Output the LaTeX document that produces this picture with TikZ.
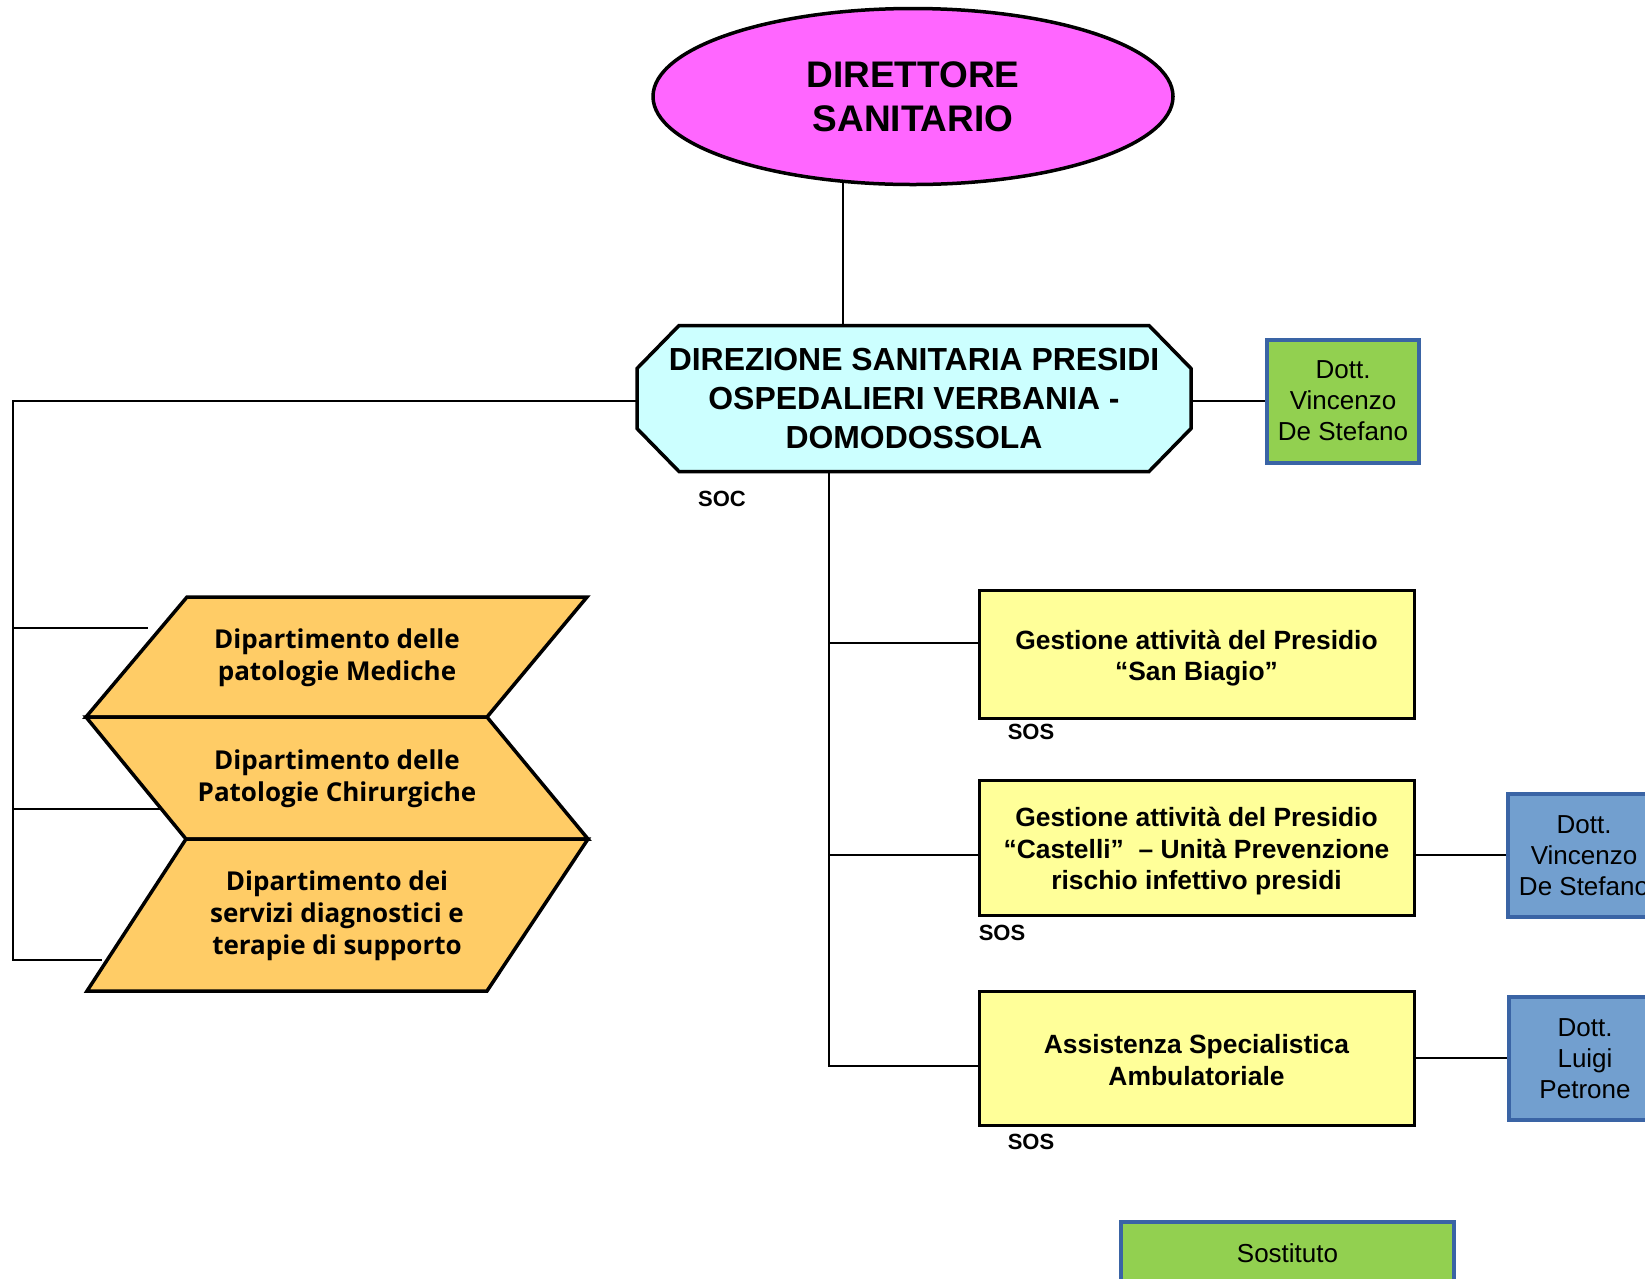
\documentclass[tikz,border=0pt]{standalone}
\usepackage{fontspec}
\setmainfont{Liberation Sans}
\newfontfamily\chevfont{Open Sans}
\usetikzlibrary{shapes.geometric,calc}
\definecolor{magentaF}{HTML}{FF66FF}
\definecolor{cyanF}{HTML}{CCFFFF}
\definecolor{yellowF}{HTML}{FFFF99}
\definecolor{orangeF}{HTML}{FFCC66}
\definecolor{greenF}{HTML}{92D050}
\definecolor{blueF}{RGB}{114,159,207}
\definecolor{blueD}{RGB}{58,100,165}
\begin{document}
\begin{tikzpicture}[x=1pt,y=-1pt,
  conn/.style={line width=2pt},
  ybox/.style={draw, line width=3pt, fill=yellowF, minimum width=435, inner sep=0},
  ytxt/.style={inner sep=0, align=center, font=\fontsize{26.4}{31.5}\selectfont\bfseries},
  pbox/.style={draw=blueD, line width=4pt, fill=blueF, minimum width=152, minimum height=123,
    inner sep=0, align=center, font=\fontsize{26}{31}\selectfont},
  gbox/.style={pbox, fill=greenF},
  tag/.style={inner sep=0, font=\fontsize{22}{24}\selectfont\bfseries},
  chev/.style={draw, line width=3.5pt, fill=orangeF},
  chevtxt/.style={inner sep=0, align=center, font=\chevfont\bfseries\fontsize{26}{32}\selectfont}]
\useasboundingbox (0,0) rectangle (1645,1278);

% top ellipse
\node[ellipse, draw, line width=3.5pt, fill=magentaF, minimum width=520, minimum height=176,
  inner sep=0, align=center, font=\fontsize{37}{44}\selectfont\bfseries] (ell) at (913,96.5)
  {DIRETTORE\\SANITARIO};

% octagon
\node[inner sep=0, outer sep=0, minimum width=554, minimum height=146] (dir) at (914,398.5) {};
\draw[line width=3.5pt, fill=cyanF]
  ([xshift=42pt]dir.north west) -- ([xshift=-42pt]dir.north east)
  -- ([yshift=-43pt]dir.north east) -- ([yshift=43pt]dir.south east)
  -- ([xshift=-42pt]dir.south east) -- ([xshift=42pt]dir.south west)
  -- ([yshift=43pt]dir.south west) -- ([yshift=-43pt]dir.north west) -- cycle;
\node[inner sep=0, align=center, font=\fontsize{31.9}{39}\selectfont\bfseries] (dirtxt) at (dir.center)
  {DIREZIONE SANITARIA PRESIDI\\OSPEDALIERI VERBANIA -\\DOMODOSSOLA};
\node[tag] (soc) at (722,499) {SOC};

% green box
\node[gbox] (green) at (1343,401) {Dott.\\Vincenzo\\De Stefano};

% yellow boxes
\node[ybox, minimum height=128] (y1) at (1196.5,654.7) {};
\node[ybox, minimum height=134.6] (y2) at (1196.5,848) {};
\node[ybox, minimum height=134.3] (y3) at (1196.5,1058.5) {};
\node[ytxt] (y1t) at ([yshift=-3.5pt]y1.center) {Gestione attività del Presidio\\“San Biagio”};
\node[ytxt] (y2t) at ([yshift=-3.5pt]y2.center) {Gestione attività del Presidio\\“Castelli”\ \ – Unità Prevenzione\\rischio infettivo presidi};
\node[ytxt] (y3t) at ([yshift=-1.5pt]y3.center) {Assistenza Specialistica\\Ambulatoriale};
\node[tag] (sos1) at (1031,732) {SOS};
\node[tag] (sos2) at (1002,932.6) {SOS};
\node[tag] (sos3) at (1031,1142) {SOS};

% blue boxes
\node[pbox] (b1) at (1584,855.3) {Dott.\\Vincenzo\\De Stefano};
\node[pbox] (b2) at (1585,1058.3) {Dott.\\Luigi\\Petrone};

% sostituto
\node[gbox, minimum width=333, minimum height=63] (sost) at (1287.5,1253.2) {Sostituto};

% chevrons
\coordinate (A) at (187,597);
\coordinate (B) at (587,597);
\coordinate (C) at (487,717);
\coordinate (D) at (86,717);
\coordinate (E) at (588,839);
\coordinate (F) at (186,839);
\coordinate (G) at (487,991);
\coordinate (H) at (87,991);
\draw[chev] (A) -- (B) -- (C) -- (D) -- cycle;
\draw[chev] (D) -- (C) -- (E) -- (F) -- cycle;
\draw[chev] (F) -- (E) -- (G) -- (H) -- cycle;
\node[chevtxt] (c1) at (337,658) {Dipartimento delle\\patologie Mediche};
\node[chevtxt] (c2) at (337,779) {Dipartimento delle\\Patologie Chirurgiche};
\node[chevtxt] (c3) at (337,916) {Dipartimento dei\\servizi diagnostici e\\terapie di supporto};

% connectors
\draw[conn] (ell.231.3) -- (ell.231.3 |- dir.north);
\draw[conn] (dir.east |- green.west) -- (green.west);

\coordinate (lb1) at (147.5,628);
\coordinate (lb2) at (162,809);
\coordinate (lb3) at (102,960);
\coordinate (lcorner) at (12.5,960);
\draw[conn] (dir.west |- green.west) -| (lcorner) -- (lb3);
\draw[conn] (lcorner |- lb1) -- (lb1);
\draw[conn] (lcorner |- lb2) -- (lb2);

\coordinate (y1in) at ([yshift=11.4pt]y1.west);
\coordinate (y2in) at ([yshift=-7pt]y2.west);
\coordinate (y3in) at ([yshift=-7.5pt]y3.west);
\coordinate (rtrunk) at (829,1066);
\draw[conn] (dir.south -| rtrunk) -- (rtrunk) -- (y3in);
\draw[conn] (rtrunk |- y1in) -- (y1in);
\draw[conn] (rtrunk |- y2in) -- (y2in);
\draw[conn] (y2.east |- b1.west) -- (b1.west);
\draw[conn] (y3.east |- b2.west) -- (b2.west);
\end{tikzpicture}
\end{document}
